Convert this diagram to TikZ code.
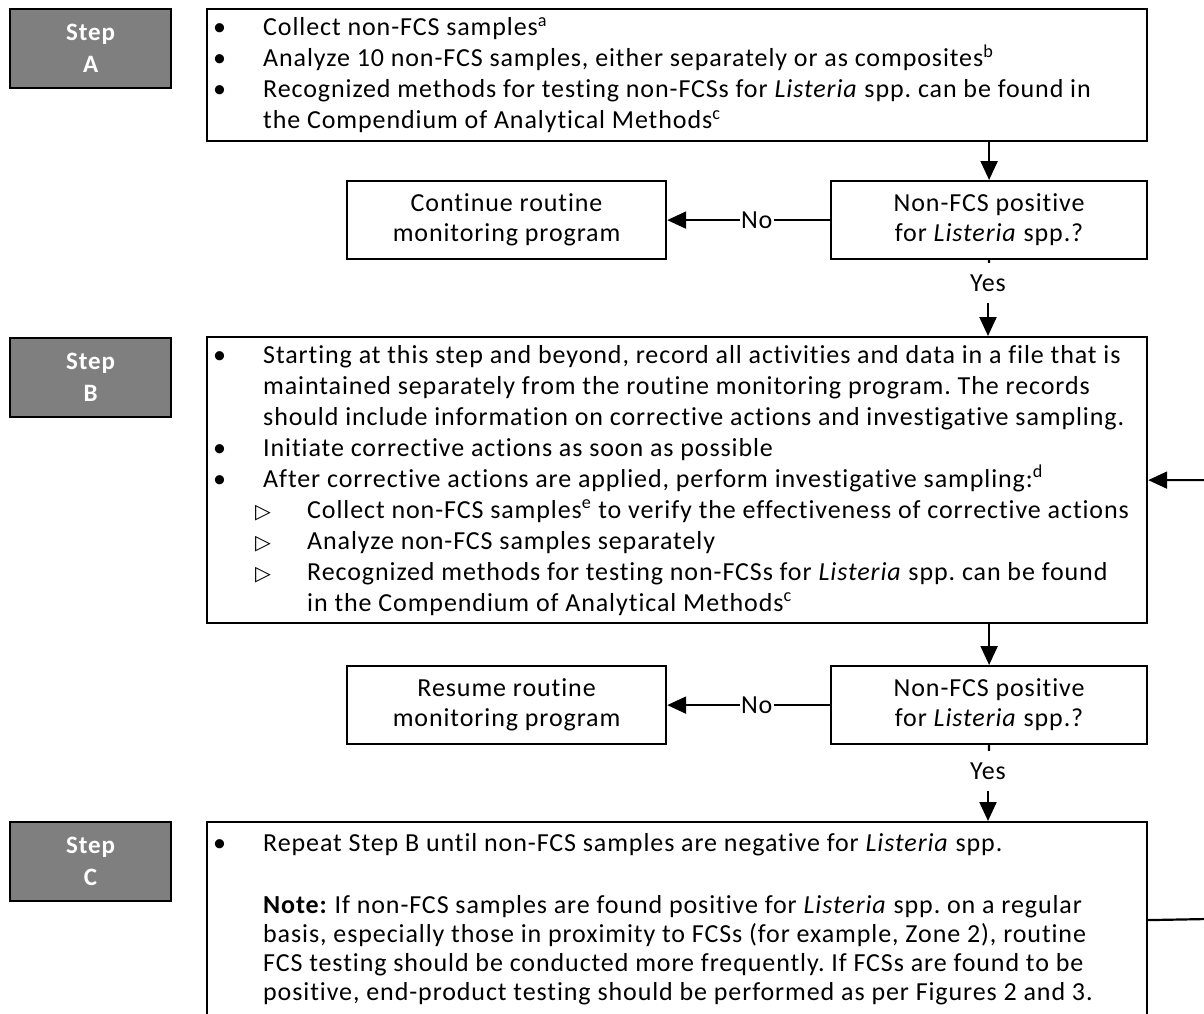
\documentclass[tikz,border=0pt]{standalone}
\usepackage{fontspec}
\setmainfont[LetterSpace=3.5,Ligatures=NoCommon]{Carlito}
\newfontfamily\dejavu{DejaVu Sans}
\usetikzlibrary{arrows.meta}
\definecolor{stepgray}{RGB}{127,127,127}
\frenchspacing
\newcommand\bu{\makebox[52pt][l]{\hspace{2pt}•}}
\newcommand\sbu{\hspace{44pt}\makebox[52pt][l]{{\dejavu\fontsize{20.5}{20}\selectfont ▷}}}
\newcommand\ind{\hspace{52pt}}
\newcommand\sind{\hspace{96pt}}
\newcommand\supx[1]{\textsuperscript{#1}}
\newcommand\mylines[2]{\vtop{\baselineskip=#1\lineskiplimit=-100pt\lineskip=0pt\halign{##\hfil\cr#2\crcr}}}
\tikzset{
  stepbox/.style={draw=black, line width=2.2pt, fill=stepgray, text=white,
    font=\bfseries\fontsize{25}{32}\selectfont, minimum width=161pt, minimum height=79pt,
    inner sep=0pt, anchor=north west, align=center},
  mainbox/.style={draw=black, line width=2.2pt, minimum width=940pt, inner sep=0pt, anchor=north west},
  decbox/.style={draw=black, line width=2.2pt, minimum width=316pt, minimum height=78pt,
    inner sep=0pt, anchor=north west, align=center, font=\fontsize{26}{30}\selectfont},
  endbox/.style={draw=black, line width=2.2pt, minimum width=319pt, minimum height=78pt,
    inner sep=0pt, anchor=north west, align=center, font=\fontsize{26}{30}\selectfont},
  txt/.style={anchor=base west, inner sep=0pt, font=\fontsize{26}{31}\selectfont},
  lbl/.style={fill=white, inner sep=1.5pt, font=\fontsize{26}{30}\selectfont},
  yesn/.style={fill=white, inner sep=0pt, minimum height=40pt, font=\fontsize{26}{30}\selectfont},
  arr/.style={line width=2.2pt, -{Triangle[length=19pt,width=17pt]}},
  conn/.style={line width=2.2pt}
}
\begin{document}
\begin{tikzpicture}[x=1pt,y=-1pt]
\useasboundingbox (0,0) rectangle (1204,1014);
% step labels
\node[stepbox] (stA) at (9,8) {Step\\A};
\node[stepbox] (stB) at (9,337) {Step\\B};
\node[stepbox] (stC) at (9,821) {Step\\C};
% main boxes
\node[mainbox, minimum height=132pt] (boxA) at (206,8) {};
\node[mainbox, minimum height=286pt] (boxB) at (206,336) {};
\node[mainbox, minimum height=196pt] (boxC) at (206,821) {};
% decisions and ends
\node[decbox] (d1) at (830,180) {Non-FCS positive\\for \textit{Listeria} spp.?};
\node[endbox] (e1) at (346,180) {Continue routine\\monitoring program};
\node[decbox] (d2) at (830,665) {Non-FCS positive\\for \textit{Listeria} spp.?};
\node[endbox] (e2) at (346,665) {Resume routine\\monitoring program};
% texts
\node[txt] (tA) at (211,36) {\mylines{31pt}{%
\bu Collect non-FCS samples\supx{a}\cr
\bu Analyze 10 non-FCS samples, either separately or as composites\supx{b}\cr
\bu Recognized methods for testing non-FCSs for \textit{Listeria} spp. can be found in\cr
\ind the Compendium of Analytical Methods\supx{c}\cr}};
\node[txt] (tB) at (211,363) {\mylines{31pt}{%
\bu Starting at this step and beyond, record all activities and data in a file that is\cr
\ind maintained separately from the routine monitoring program. The records\cr
\ind should include information on corrective actions and investigative sampling.\cr
\bu Initiate corrective actions as soon as possible\cr
\bu After corrective actions are applied, perform investigative sampling:\supx{d}\cr
\sbu Collect non-FCS samples\supx{e} to verify the effectiveness of corrective actions\cr
\sbu Analyze non-FCS samples separately\cr
\sbu Recognized methods for testing non-FCSs for \textit{Listeria} spp. can be found\cr
\sind in the Compendium of Analytical Methods\supx{c}\cr}};
\node[txt] (tC) at (211,851) {\bu Repeat Step B until non-FCS samples are negative for \textit{Listeria} spp.};
\node[txt] (tN) at (263,913) {\mylines{29pt}{%
\textbf{Note:} If non-FCS samples are found positive for \textit{Listeria} spp. on a regular\cr
basis, especially those in proximity to FCSs (for example, Zone 2), routine\cr
FCS testing should be conducted more frequently. If FCSs are found to be\cr
positive, end-product testing should be performed as per Figures 2 and 3.\cr}};
% connectors
\draw[arr] (boxA.south -| d1.north) -- (d1.north);
\draw[arr] (d1.west) -- node[lbl, pos=0.45] (no1) {No} (e1.east);
\node[yesn] (y1) at (988,283) {Yes};
\draw[conn] (d1.south) -- (y1);
\draw[arr] (y1) -- (boxB.north -| y1);
\draw[arr] (boxB.south -| d2.north) -- (d2.north);
\draw[arr] (d2.west) -- node[lbl, pos=0.45] (no2) {No} (e2.east);
\node[yesn] (y2) at (988,771) {Yes};
\draw[conn] (d2.south) -- (y2);
\draw[arr] (y2) -- (boxC.north -| y2);
\coordinate (fb) at (1208,919);
\draw[arr] (boxC.east) -- (fb) |- (boxB.east);
\end{tikzpicture}
\end{document}
